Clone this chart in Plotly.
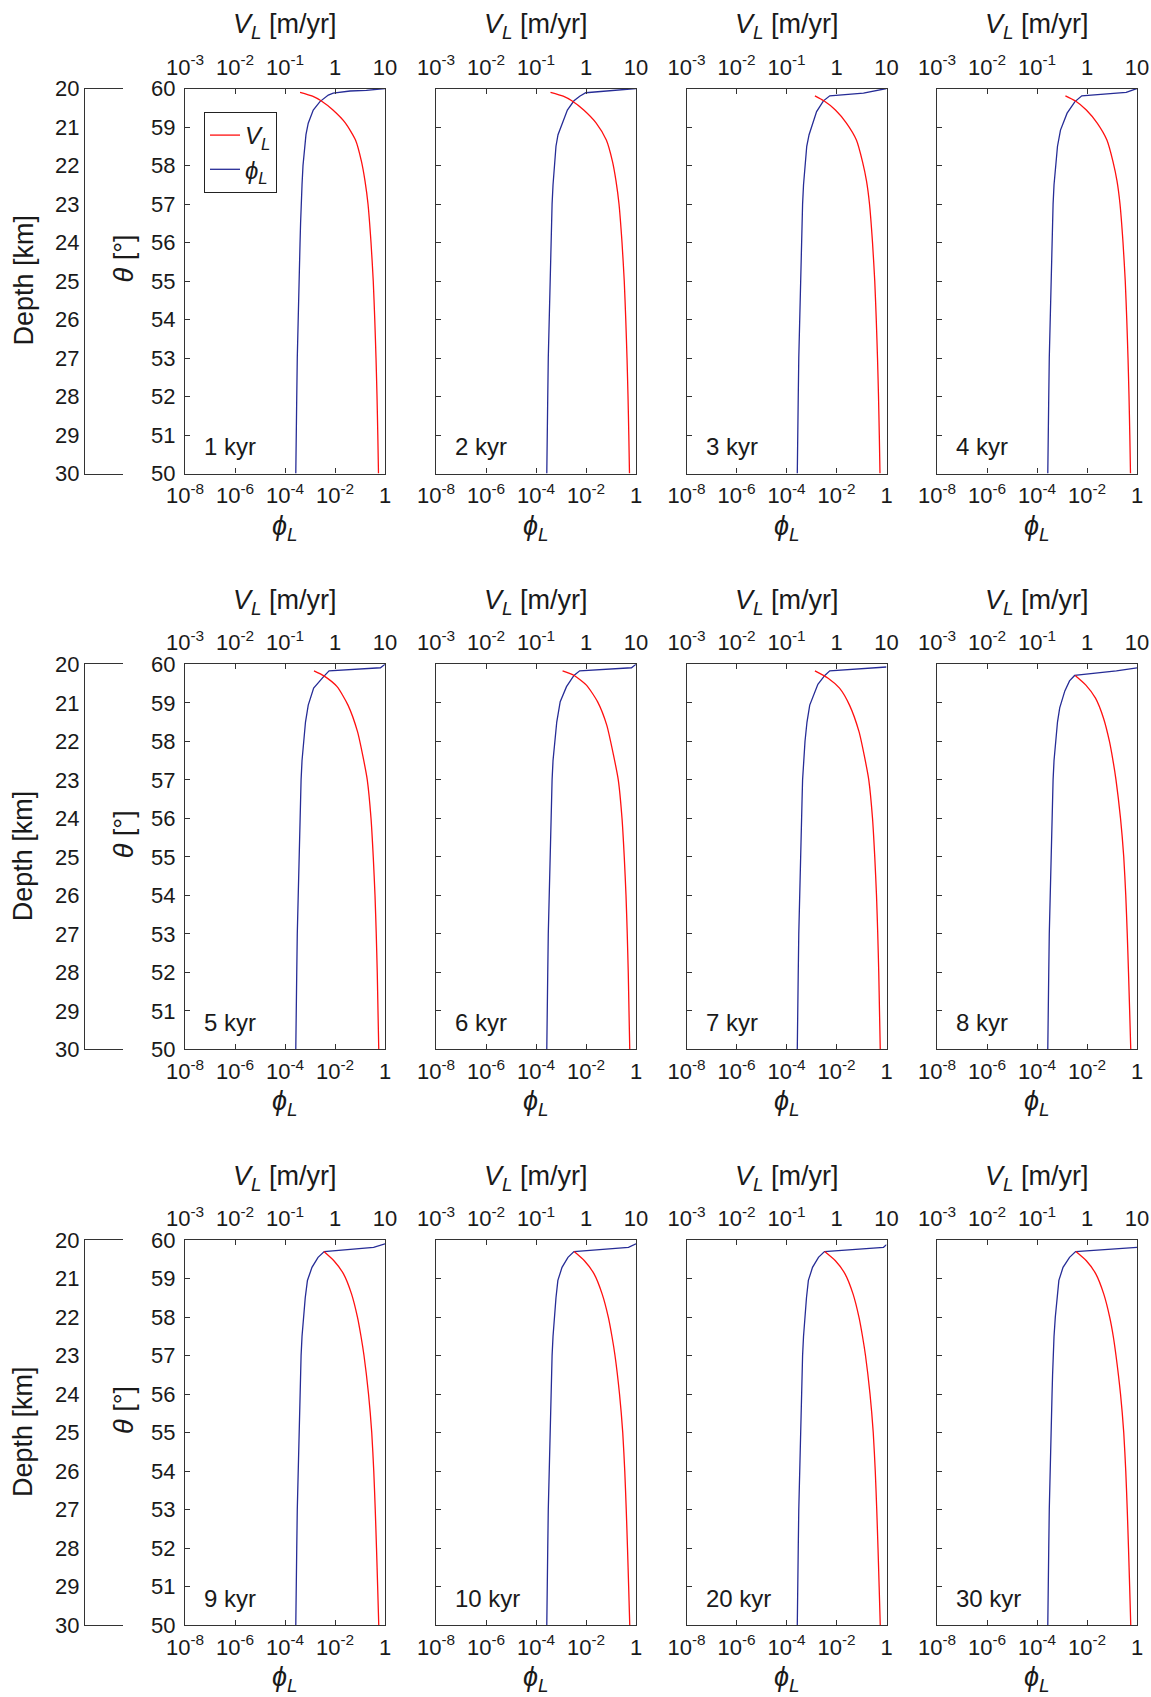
import plotly.graph_objects as go

# ---------------- data ----------------
time_labels = ["1 kyr", "2 kyr", "3 kyr", "4 kyr", "5 kyr", "6 kyr",
               "7 kyr", "8 kyr", "9 kyr", "10 kyr", "20 kyr", "30 kyr"]

phi_ticks = [1e-8, 1e-6, 1e-4, 1e-2, 1]
phi_ticktext = ["10<sup>-8</sup>", "10<sup>-6</sup>", "10<sup>-4</sup>", "10<sup>-2</sup>", "1"]
vl_ticks = [1e-3, 1e-2, 1e-1, 1, 10]
vl_ticktext = ["10<sup>-3</sup>", "10<sup>-2</sup>", "10<sup>-1</sup>", "1", "10"]
theta_ticks = [50, 51, 52, 53, 54, 55, 56, 57, 58, 59, 60]
depth_ticks = [20, 21, 22, 23, 24, 25, 26, 27, 28, 29, 30]

# deep parts of the curves (nearly identical in every panel)
theta_phi_tail = [57.5, 57.0, 56.5, 56.0, 55.0, 54.0, 53.0, 52.0, 51.0, 50.0]
phi_tail = [4.8e-4, 4.4e-4, 4.2e-4, 4.0e-4, 3.6e-4, 3.35e-4, 3.1e-4, 2.95e-4, 2.8e-4, 2.7e-4]
theta_vl_tail = [57.0, 56.0, 55.0, 54.0, 53.0, 52.0, 51.0, 50.0]
vl_tail_row1 = [4.57, 5.25, 5.82, 6.24, 6.61, 6.92, 7.18, 7.41]
vl_tail_row2 = [4.42, 5.25, 5.82, 6.31, 6.68, 7.0, 7.24, 7.5]
vl_tail_row3 = [3.8, 4.68, 5.43, 5.96, 6.38, 6.76, 7.13, 7.5]

# upper parts, per panel
theta_phi_01 = [60.0, 59.95, 59.935, 59.90, 59.88, 59.83, 59.66, 59.44, 59.10, 58.8, 58.5, 58.0]
phi_01 = [1.0, 0.18, 0.04, 0.01, 0.0085, 0.0054, 0.0025, 0.00135, 0.00085, 0.00069, 6.1e-4, 5.25e-4]
theta_vl_01 = [59.90, 59.80, 59.68, 59.44, 59.10, 58.66, 58.1, 57.6]
vl_01 = [0.2, 0.355, 0.525, 0.91, 1.62, 2.57, 3.39, 3.98]

theta_phi_02 = [60.0, 59.89, 59.80, 59.68, 59.44, 59.0, 58.8, 58.5, 58.0]
phi_02 = [1.0, 0.0098, 0.0056, 0.0033, 0.0018, 0.00098, 0.00076, 6.3e-4, 5.4e-4]
theta_vl_02 = [59.90, 59.80, 59.68, 59.44, 59.10, 58.66, 58.1, 57.6]
vl_02 = [0.195, 0.35, 0.52, 0.9, 1.6, 2.55, 3.39, 3.98]

theta_phi_03 = [60.0, 59.88, 59.81, 59.68, 59.40, 59.0, 58.8, 58.5, 58.0]
phi_03 = [1.0, 0.12, 0.0054, 0.003, 0.0016, 0.001, 0.0008, 6.45e-4, 5.5e-4]
theta_vl_03 = [59.81, 59.68, 59.44, 59.10, 58.66, 58.1, 57.6]
vl_03 = [0.37, 0.56, 0.95, 1.58, 2.5, 3.31, 3.98]

theta_phi_04 = [60.0, 59.90, 59.81, 59.66, 59.36, 58.92, 58.5, 58.0]
phi_04 = [1.0, 0.37, 0.0062, 0.0033, 0.0016, 0.00087, 6.6e-4, 5.5e-4]
theta_vl_04 = [59.81, 59.68, 59.44, 59.10, 58.66, 58.1, 57.6]
vl_04 = [0.37, 0.58, 0.97, 1.6, 2.5, 3.31, 3.98]

theta_phi_05 = [60.0, 59.91, 59.83, 59.68, 59.38, 58.94, 58.5, 58.0]
phi_05 = [1.0, 0.66, 0.0058, 0.0035, 0.0014, 0.00085, 6.6e-4, 5.5e-4]
theta_vl_05 = [59.83, 59.70, 59.42, 58.94, 58.25, 57.6]
vl_05 = [0.38, 0.6, 1.1, 1.82, 2.82, 3.63]

theta_phi_06 = [60.0, 59.91, 59.83, 59.71, 59.42, 59.03, 58.5, 58.0]
phi_06 = [1.0, 0.66, 0.0056, 0.0033, 0.00166, 0.00093, 6.76e-4, 5.6e-4]
theta_vl_06 = [59.83, 59.71, 59.46, 59.03, 58.42, 57.64]
vl_06 = [0.34, 0.58, 1.02, 1.7, 2.6, 3.55]

theta_phi_07 = [59.93, 59.83, 59.71, 59.48, 58.94, 58.5, 58.0]
phi_07 = [1.0, 0.0054, 0.0034, 0.0018, 0.00085, 6.6e-4, 5.5e-4]
theta_vl_07 = [59.83, 59.64, 59.38, 58.94, 58.25, 57.6]
vl_07 = [0.37, 0.68, 1.15, 1.82, 2.82, 3.63]

theta_phi_08 = [59.91, 59.83, 59.71, 59.57, 59.31, 58.87, 58.5, 58.0]
phi_08 = [1.0, 0.15, 0.0032, 0.002, 0.0013, 0.00081, 6.6e-4, 5.6e-4]
theta_vl_08 = [59.71, 59.46, 59.12, 58.60, 57.99, 57.5]
vl_08 = [0.58, 0.95, 1.48, 2.14, 2.82, 3.31]

theta_phi_09 = [59.90, 59.81, 59.70, 59.55, 59.29, 58.95, 58.5, 58.0]
phi_09 = [1.0, 0.35, 0.0037, 0.0021, 0.0012, 0.00079, 6.45e-4, 5.5e-4]
theta_vl_09 = [59.70, 59.46, 59.12, 58.60, 57.99, 57.5]
vl_09 = [0.6, 0.95, 1.48, 2.14, 2.82, 3.31]

theta_phi_10 = [59.90, 59.81, 59.70, 59.55, 59.29, 58.95, 58.5, 58.0]
phi_10 = [1.0, 0.5, 0.0033, 0.0019, 0.0011, 0.00075, 6.3e-4, 5.4e-4]
theta_vl_10 = [59.70, 59.46, 59.12, 58.60, 57.99, 57.5]
vl_10 = [0.58, 0.93, 1.45, 2.1, 2.8, 3.3]

theta_phi_20 = [59.88, 59.81, 59.70, 59.55, 59.29, 58.95, 58.5, 58.0]
phi_20 = [1.0, 0.76, 0.0033, 0.0019, 0.0011, 0.00075, 6.3e-4, 5.4e-4]
theta_vl_20 = [59.70, 59.46, 59.12, 58.60, 57.99, 57.5]
vl_20 = [0.58, 0.95, 1.48, 2.14, 2.82, 3.31]

theta_phi_30 = [59.81, 59.70, 59.55, 59.29, 58.95, 58.5, 58.0]
phi_30 = [1.0, 0.0035, 0.002, 0.0011, 0.00075, 6.3e-4, 5.4e-4]
theta_vl_30 = [59.70, 59.46, 59.12, 58.60, 57.99, 57.5]
vl_30 = [0.6, 0.97, 1.5, 2.16, 2.85, 3.35]

panels = [
    (theta_phi_01, phi_01, theta_vl_01, vl_01, vl_tail_row1),
    (theta_phi_02, phi_02, theta_vl_02, vl_02, vl_tail_row1),
    (theta_phi_03, phi_03, theta_vl_03, vl_03, vl_tail_row1),
    (theta_phi_04, phi_04, theta_vl_04, vl_04, vl_tail_row1),
    (theta_phi_05, phi_05, theta_vl_05, vl_05, vl_tail_row2),
    (theta_phi_06, phi_06, theta_vl_06, vl_06, vl_tail_row2),
    (theta_phi_07, phi_07, theta_vl_07, vl_07, vl_tail_row2),
    (theta_phi_08, phi_08, theta_vl_08, vl_08, vl_tail_row3),
    (theta_phi_09, phi_09, theta_vl_09, vl_09, vl_tail_row3),
    (theta_phi_10, phi_10, theta_vl_10, vl_10, vl_tail_row3),
    (theta_phi_20, phi_20, theta_vl_20, vl_20, vl_tail_row3),
    (theta_phi_30, phi_30, theta_vl_30, vl_30, vl_tail_row3),
]

# ---------------- layout geometry ----------------
W, H = 1151, 1697
row_tops = [88.5, 664.3, 1240.0]
row_h = 385.0
col_lefts = [185.0, 436.0, 686.5, 937.0]
col_w = 200.0

RED = "#ff1010"
BLUE = "#262c96"
AX = "#333333"
TXT = "#1a1a1a"
FONT = "Liberation Sans, Arial, sans-serif"


def fx(p):
    return p / W


def fy(p):
    return 1 - p / H


fig = go.Figure()
layout = dict(
    width=W, height=H,
    margin=dict(l=0, r=0, t=0, b=0),
    paper_bgcolor="white", plot_bgcolor="white",
    font=dict(family=FONT, color=TXT, size=22),
    showlegend=True,
    legend=dict(x=fx(204), y=fy(112), xanchor="left", yanchor="top",
                bordercolor="#222222", borderwidth=1, bgcolor="white",
                font=dict(size=24, family=FONT, color=TXT),
                itemwidth=30, tracegroupgap=0),
)
annotations = []

axis_common = dict(showline=True, linecolor=AX, linewidth=1.3, mirror=True,
                   ticks="inside", ticklen=5, tickwidth=1.2, tickcolor=AX,
                   showgrid=False, zeroline=False, automargin=False,
                   tickfont=dict(size=22, family=FONT, color=TXT))

for i, (tp, ph, tv, vl, vtail) in enumerate(panels):
    r, c = divmod(i, 4)
    top = row_tops[r]
    left = col_lefts[c]
    xb = 2 * i + 1
    xt = 2 * i + 2
    yi = i + 1
    xdom = [fx(left), fx(left + col_w)]
    ydom = [fy(top + row_h), fy(top)]

    layout[f"xaxis{xb}"] = dict(axis_common, domain=xdom, anchor=f"y{yi}", type="log",
                                range=[-8, 0], tickvals=phi_ticks, ticktext=phi_ticktext,
                                ticklabelstandoff=2)
    layout[f"xaxis{xt}"] = dict(axis_common, overlaying=f"x{xb}", side="top", anchor=f"y{yi}",
                                type="log", range=[-3, 1], tickvals=vl_ticks,
                                ticktext=vl_ticktext, ticklabelstandoff=4)
    layout[f"yaxis{yi}"] = dict(axis_common, domain=ydom, anchor=f"x{xb}", range=[50, 60],
                                tickvals=theta_ticks, showticklabels=(c == 0),
                                ticklabelstandoff=4)

    fig.add_trace(go.Scatter(x=vl + vtail, y=tv + theta_vl_tail, mode="lines",
                             line=dict(color=RED, width=1.3, shape="spline", smoothing=0.6),
                             xaxis=f"x{xt}", yaxis=f"y{yi}",
                             name="<i>V</i><sub><i>L</i></sub>", showlegend=(i == 0)))
    fig.add_trace(go.Scatter(x=ph + phi_tail, y=tp + theta_phi_tail, mode="lines",
                             line=dict(color=BLUE, width=1.3),
                             xaxis=f"x{xb}", yaxis=f"y{yi}",
                             name="<i>ϕ</i><sub><i>L</i></sub>", showlegend=(i == 0)))

    cx = fx(left + col_w / 2)
    annotations.append(dict(text="<i>V</i><sub><i>L</i></sub> [m/yr]", x=cx, y=fy(top - 62),
                            xref="paper", yref="paper", showarrow=False,
                            xanchor="center", yanchor="middle",
                            font=dict(size=27, family=FONT, color=TXT)))
    annotations.append(dict(text="<i>ϕ</i><sub><i>L</i></sub>", x=cx, y=fy(top + row_h + 54),
                            xref="paper", yref="paper", showarrow=False,
                            xanchor="center", yanchor="middle",
                            font=dict(size=27, family=FONT, color=TXT)))
    annotations.append(dict(text=time_labels[i], x=fx(left + 17), y=fy(top + row_h - 27),
                            xref="paper", yref="paper", showarrow=False,
                            xanchor="left", yanchor="middle",
                            font=dict(size=24, family=FONT, color=TXT)))

# depth axes (one per row)
for r in range(3):
    top = row_tops[r]
    xi = 25 + r
    yi = 13 + r
    layout[f"xaxis{xi}"] = dict(domain=[fx(85), fx(123)], anchor=f"y{yi}", range=[0, 1],
                                showline=True, linecolor=AX, linewidth=1.3, mirror=True,
                                ticks="", showticklabels=False, showgrid=False,
                                zeroline=False, automargin=False)
    layout[f"yaxis{yi}"] = dict(domain=[fy(top + row_h), fy(top)], anchor=f"x{xi}",
                                range=[30, 20], tickvals=depth_ticks,
                                showline=True, linecolor=AX, linewidth=1.3, mirror=False,
                                ticks="", showgrid=False, zeroline=False, automargin=False,
                                ticklabelstandoff=0,
                                tickfont=dict(size=22, family=FONT, color=TXT))
    fig.add_trace(go.Scatter(x=[None], y=[None], xaxis=f"x{xi}", yaxis=f"y{yi}",
                             showlegend=False, hoverinfo="skip"))
    annotations.append(dict(text="Depth [km]", x=fx(23), y=fy(top + 192),
                            xref="paper", yref="paper", showarrow=False, textangle=-90,
                            xanchor="center", yanchor="middle",
                            font=dict(size=27, family=FONT, color=TXT)))
    annotations.append(dict(text="<i>θ</i> [°]", x=fx(124), y=fy(top + 170),
                            xref="paper", yref="paper", showarrow=False, textangle=-90,
                            xanchor="center", yanchor="middle",
                            font=dict(size=27, family=FONT, color=TXT)))

layout["annotations"] = annotations
fig.update_layout(**layout)
fig.write_html("out.html", config={"displayModeBar": False},
               post_script="document.body.style.margin='0px';document.body.style.overflow='hidden';")
